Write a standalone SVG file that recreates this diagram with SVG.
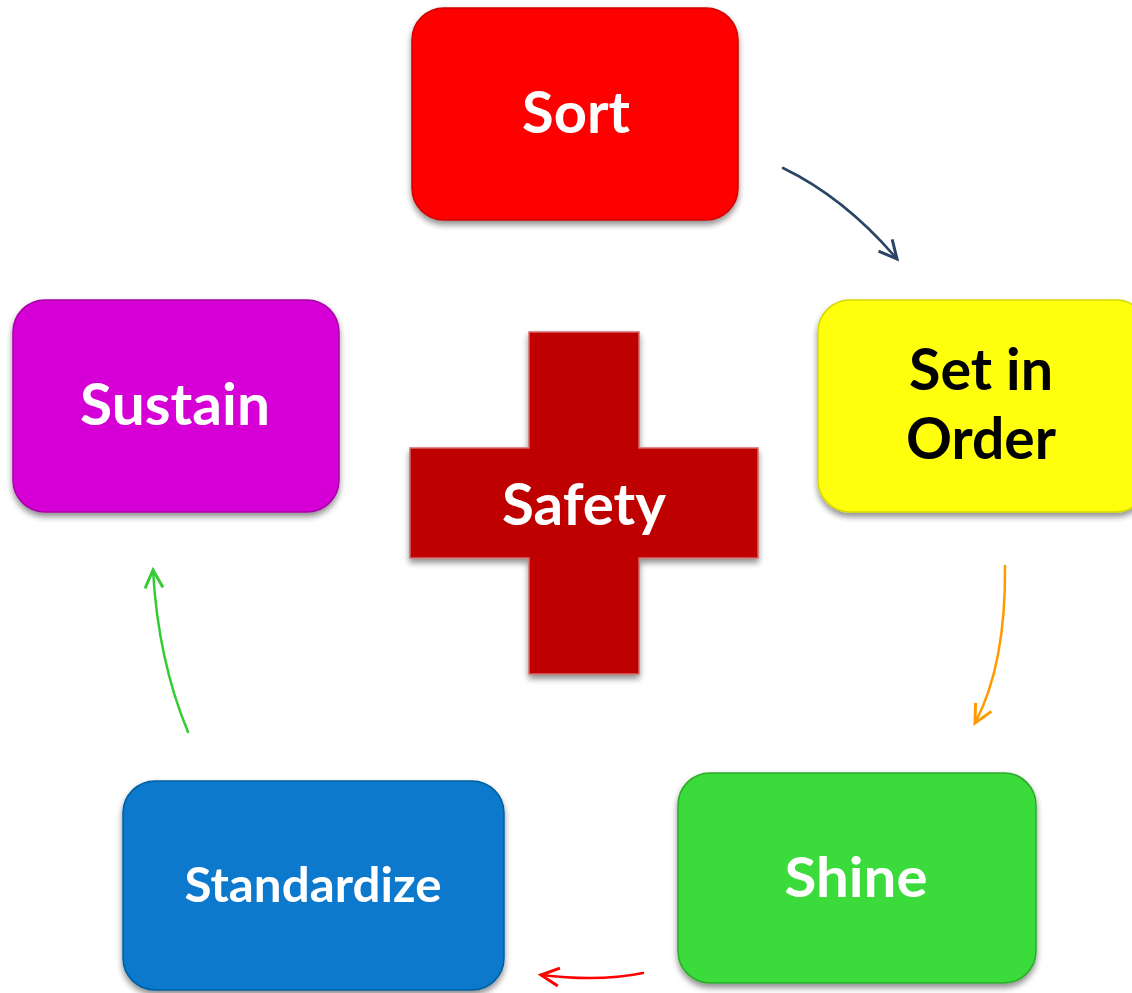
<svg xmlns="http://www.w3.org/2000/svg" width="1132" height="993" viewBox="0 0 1132 993">
<defs>
<filter id="sh" x="-10%" y="-10%" width="120%" height="125%">
<feGaussianBlur in="SourceAlpha" stdDeviation="3"/>
<feOffset dx="0" dy="4"/>
<feComponentTransfer><feFuncA type="linear" slope="0.45"/></feComponentTransfer>
<feMerge><feMergeNode/><feMergeNode in="SourceGraphic"/></feMerge>
</filter>
<marker id="ah" viewBox="0 0 12 12" refX="10" refY="6" markerWidth="9" markerHeight="9" markerUnits="userSpaceOnUse" orient="auto">
<path d="M1,1 L10,6 L1,11" fill="none" stroke="context-stroke" stroke-width="1.6"/>
</marker>
<marker id="ahN" viewBox="0 0 24 24" refX="21" refY="12" markerWidth="24" markerHeight="24" markerUnits="userSpaceOnUse" orient="auto"><path d="M3,3 L21,12 L3,21" fill="none" stroke="#2A4466" stroke-width="3"/></marker>
<marker id="ahO" viewBox="0 0 24 24" refX="21" refY="12" markerWidth="24" markerHeight="24" markerUnits="userSpaceOnUse" orient="auto"><path d="M3,3 L21,12 L3,21" fill="none" stroke="#FF9A00" stroke-width="3"/></marker>
<marker id="ahR" viewBox="0 0 24 24" refX="21" refY="12" markerWidth="24" markerHeight="24" markerUnits="userSpaceOnUse" orient="auto"><path d="M3,3 L21,12 L3,21" fill="none" stroke="#FF0000" stroke-width="3"/></marker>
<marker id="ahG" viewBox="0 0 24 24" refX="21" refY="12" markerWidth="24" markerHeight="24" markerUnits="userSpaceOnUse" orient="auto"><path d="M3,3 L21,12 L3,21" fill="none" stroke="#33CC33" stroke-width="3"/></marker>
</defs>
<style>
.box{stroke-width:1.5;filter:url(#sh)}
.lbl{font-family:Lato,"Open Sans","Liberation Sans",sans-serif;font-weight:700;text-anchor:middle}
.w{fill:#FFFFFF}
.k{fill:#000000}
.con{fill:none;stroke-width:2.5;stroke-linecap:round}
</style>
<rect width="1132" height="993" fill="#FFFFFF"/>
<g id="connectors">
<path class="con" d="M783,168 Q845,198 897,259" stroke="#2A4466" marker-end="url(#ahN)"/>
<path class="con" d="M1005,566 Q1006,665 975,723" stroke="#FF9A00" marker-end="url(#ahO)"/>
<path class="con" d="M643,973 Q600,982 541,975" stroke="#FF0000" marker-end="url(#ahR)"/>
<path class="con" d="M188,732 Q158,660 153,570" stroke="#33CC33" marker-end="url(#ahG)"/>
</g>
<g id="node-sort">
<rect class="box" x="412" y="8" width="326" height="212" rx="32" fill="#FE0606" stroke="#D00000"/>
<text class="lbl w" x="576" y="133" font-size="57" textLength="108" lengthAdjust="spacingAndGlyphs">Sort</text>
</g>
<g id="node-set-in-order">
<rect class="box" x="818" y="300" width="330" height="212" rx="32" fill="#FFFF0A" stroke="#D8D800"/>
<text class="lbl k" x="981" y="390" font-size="57" textLength="144" lengthAdjust="spacingAndGlyphs">Set in</text>
<text class="lbl k" x="981" y="459" font-size="57" textLength="150" lengthAdjust="spacingAndGlyphs">Order</text>
</g>
<g id="node-sustain">
<rect class="box" x="13" y="300" width="326" height="212" rx="32" fill="#D605D6" stroke="#A800A8"/>
<text class="lbl w" x="175" y="425" font-size="57" textLength="190" lengthAdjust="spacingAndGlyphs">Sustain</text>
</g>
<g id="node-shine">
<rect class="box" x="678" y="773" width="358" height="210" rx="32" fill="#3ADB3A" stroke="#2BAA2B"/>
<text class="lbl w" x="856" y="897" font-size="55" textLength="143" lengthAdjust="spacingAndGlyphs">Shine</text>
</g>
<g id="node-standardize">
<rect class="box" x="123" y="781" width="381" height="209" rx="32" fill="#0779CD" stroke="#055FA0"/>
<text class="lbl w" x="313" y="902" font-size="48" textLength="257" lengthAdjust="spacingAndGlyphs">Standardize</text>
</g>
<g id="node-safety">
<path class="box" d="M529,332 H639 V448 H758 V558 H639 V674 H529 V558 H410 V448 H529 Z" fill="#BF0000" stroke="#D46A6A"/>
<text class="lbl w" x="584" y="525" font-size="57" textLength="164" lengthAdjust="spacingAndGlyphs">Safety</text>
</g>
</svg>
